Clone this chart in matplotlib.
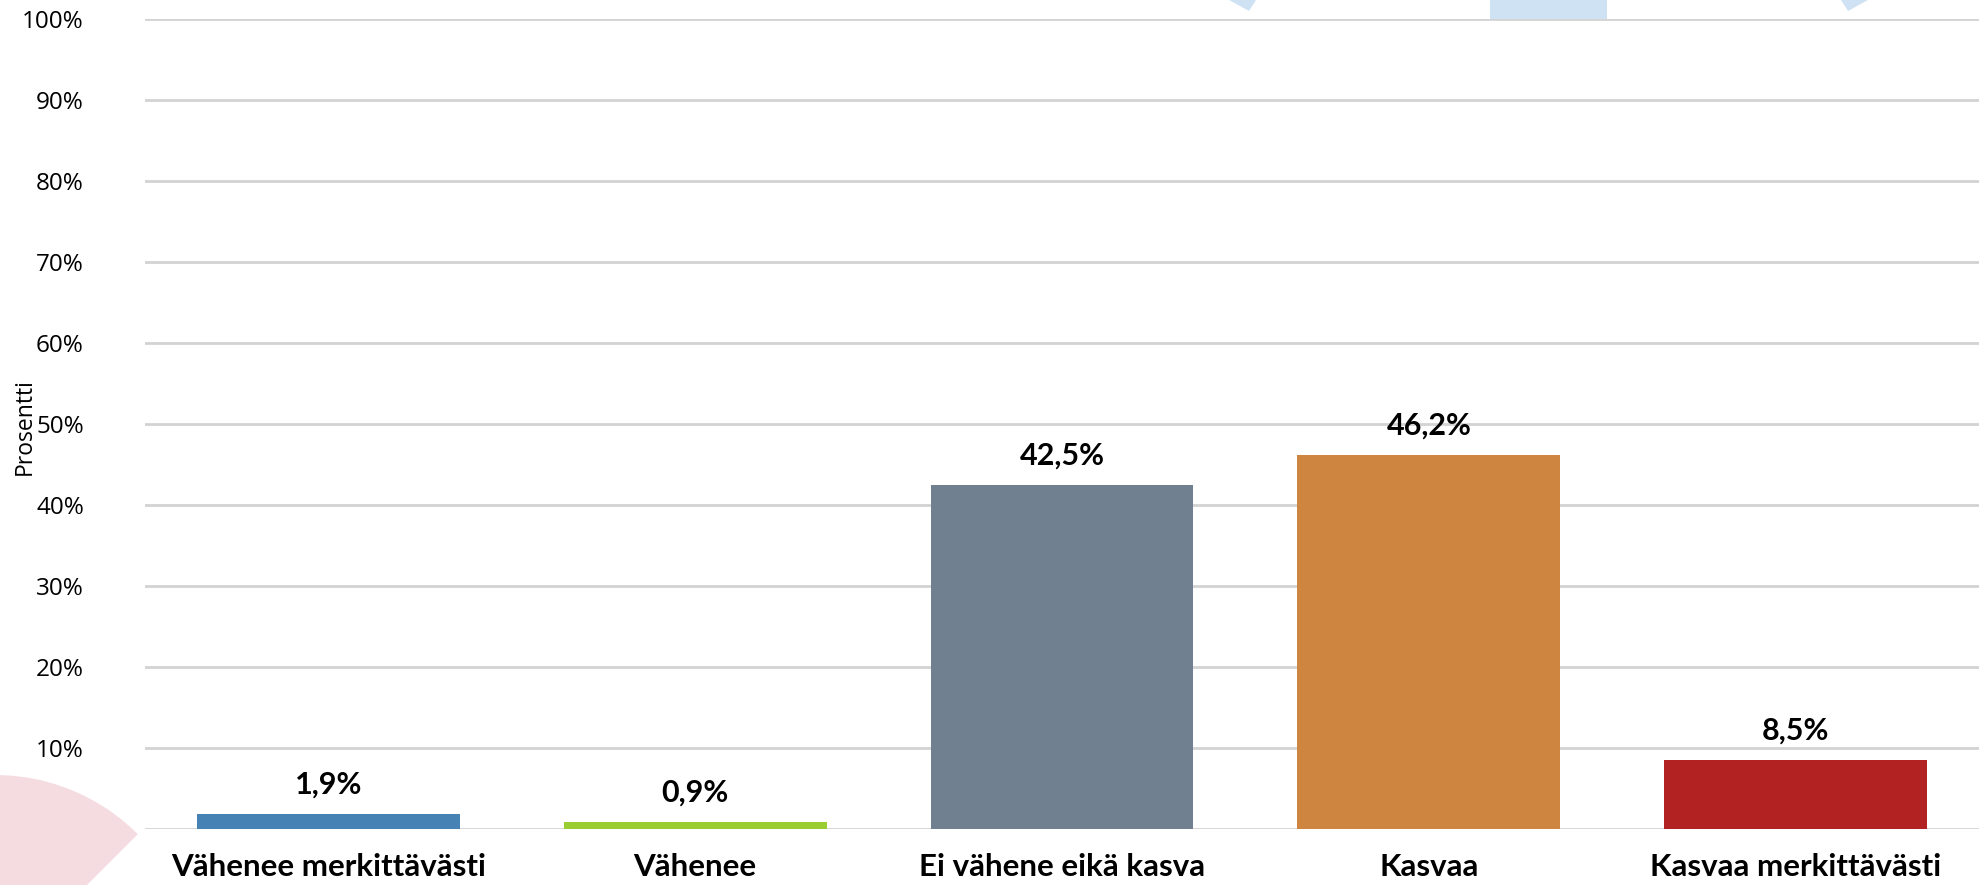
import matplotlib
matplotlib.use("Agg")
import matplotlib.pyplot as plt
from matplotlib.patches import Polygon, Wedge, Rectangle
from matplotlib.transforms import Affine2D

categories = ["Vähenee merkittävästi", "Vähenee", "Ei vähene eikä kasva", "Kasvaa", "Kasvaa merkittävästi"]
values = [1.9, 0.9, 42.5, 46.2, 8.5]
value_labels = ["1,9%", "0,9%", "42,5%", "46,2%", "8,5%"]
colors = ["#4682B4", "#9ACD32", "#708090", "#CD853F", "#B22222"]
yticks = [0, 10, 20, 30, 40, 50, 60, 70, 80, 90, 100]
ytick_labels = [f"{t}%" for t in yticks]

W, H = 1979, 885
fig = plt.figure(figsize=(W / 100, H / 100), dpi=100)
fig.patch.set_facecolor("white")

# decorative background shapes (pixel coordinates, origin top-left)
pix = Affine2D().scale(1.0 / W, -1.0 / H).translate(0, 1) + fig.transFigure
pink = "#F5DCE1"
blue = "#CFE2F3"
fig.patches.append(Wedge((-5, 977), 202, -180, -45, transform=pix, facecolor=pink, edgecolor="none", zorder=0))
fig.patches.append(Polygon([(1229, 0), (1249, 11), (1256, 0)], closed=True, transform=pix, facecolor=blue, edgecolor="none", zorder=0))
fig.patches.append(Polygon([(1841, 0), (1848, 11), (1868, 0)], closed=True, transform=pix, facecolor=blue, edgecolor="none", zorder=0))
fig.patches.append(Rectangle((1490, 0), 117, 19, transform=pix, facecolor=blue, edgecolor="none", zorder=0))

ax = fig.add_axes([145 / W, 1 - 829 / H, 1 - 145 / W, (829 - 19) / H])
ax.patch.set_alpha(0)
x = list(range(len(categories)))
ax.bar(x, values, width=0.716, color=colors, zorder=3)
ax.set_xlim(-0.5, len(categories) - 0.5)
ax.set_ylim(0, 100)
ax.set_yticks(yticks)
ax.set_yticklabels(ytick_labels, fontsize=17.5, fontfamily="Open Sans", color="#000000")
ax.set_xticks(x)
ax.set_xticklabels(categories, fontsize=22.5, fontfamily="Lato", fontweight="bold", color="#000000")
ax.tick_params(axis="y", length=0, pad=44)
ax.tick_params(axis="x", length=0, pad=17)
ax.grid(axis="y", color="#D3D3D3", linewidth=2.0, zorder=0)
ax.set_axisbelow(True)
for s in ax.spines.values():
    s.set_visible(False)

for xi, v, lab in zip(x, values, value_labels):
    ax.annotate(lab, (xi, v), xytext=(0, 11), textcoords="offset points", ha="center", va="bottom",
                fontsize=22, fontfamily="Lato", fontweight="bold", color="#000000")

fig.text(25 / W, 1 - 427 / H, "Prosentti", rotation=90, ha="center", va="center",
         fontsize=16.5, fontfamily="Open Sans", color="#000000")

fig.savefig("out.png", dpi=100)
